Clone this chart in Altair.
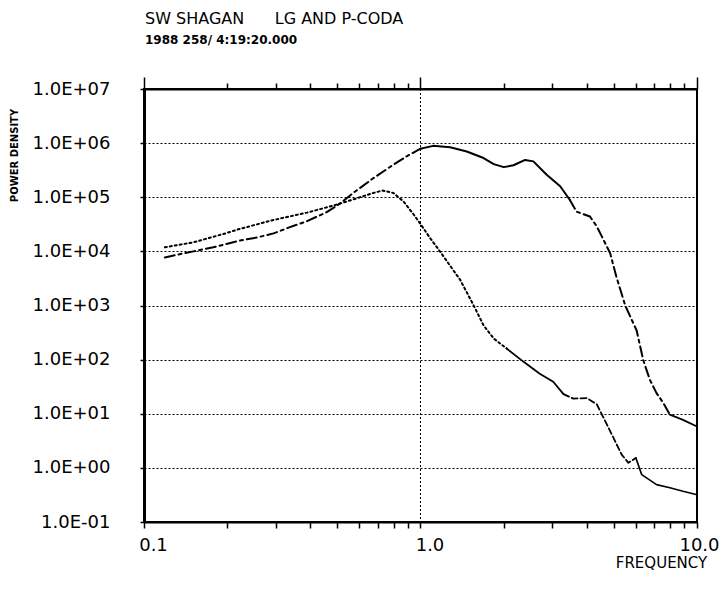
import altair as alt
import pandas as pd

# ---- data ----
dotted_freq = [0.119, 0.151, 0.194, 0.222, 0.294, 0.388, 0.484, 0.571, 0.675, 0.73, 0.798, 0.867,
               0.942, 1.0, 1.08, 1.16, 1.39, 1.55, 1.69, 1.84, 2.05, 2.36, 2.70, 3.02, 3.29, 3.57,
               3.99, 4.34, 4.71, 5.34, 5.65, 6.01, 6.31, 7.14, 7.98, 8.9, 10.0]
dotted_power = [1.19e4, 1.47e4, 2.1e4, 2.6e4, 3.8e4, 5.2e4, 7.0e4, 9.1e4, 1.2e5, 1.33e5, 1.2e5, 8.4e4,
                4.9e4, 3.2e4, 1.8e4, 1.1e4, 3.0e3, 1.05e3, 430, 245, 160, 91, 55, 39, 23, 19,
                19.5, 15, 6.5, 1.76, 1.24, 1.53, 0.75, 0.49, 0.43, 0.37, 0.32]

dashed_freq = [0.119, 0.139, 0.151, 0.178, 0.222, 0.256, 0.294, 0.337, 0.388, 0.458, 0.512, 0.571,
               0.675, 0.798, 0.891, 1.0, 1.11, 1.28, 1.47, 1.69, 1.84, 2.0, 2.17, 2.39, 2.56, 2.86,
               3.2, 3.47, 3.67, 4.10, 4.34, 4.85, 5.11, 5.5, 6.05, 6.39, 6.76, 7.14, 7.56, 7.98,
               8.9, 10.0]
dashed_power = [7.7e3, 9.2e3, 1.0e4, 1.19e4, 1.58e4, 1.8e4, 2.15e4, 2.8e4, 3.6e4, 5.3e4, 7.7e4, 1.2e5,
                2.25e5, 4.0e5, 5.7e5, 7.9e5, 8.9e5, 8.4e5, 7.0e5, 5.3e5, 4.1e5, 3.6e5, 3.9e5, 4.9e5,
                4.6e5, 2.6e5, 1.6e5, 8.9e4, 5.4e4, 4.4e4, 2.9e4, 9.3e3, 3.4e3, 1.0e3, 345, 98, 42,
                24, 15.7, 9.6, 7.7, 5.8]

decades = [1e-1, 1e0, 1e1, 1e2, 1e3, 1e4, 1e5, 1e6, 1e7]
freq_ticks = [0.1, 0.2, 0.3, 0.4, 0.5, 0.6, 0.7, 0.8, 0.9,
              1, 2, 3, 4, 5, 6, 7, 8, 9, 10]
major_freqs = [0.1, 1.0, 10.0]
major_labels = ["0.1", "1.0", "10.0"]
ref_freq = [1.0]

title_text = "SW SHAGAN\u00a0\u00a0\u00a0\u00a0\u00a0\u00a0LG AND P-CODA"
subtitle_text = "1988 258/ 4:19:20.000"
x_title = "FREQUENCY"
y_title = "POWER DENSITY"

FONT = "DejaVu Sans"


def seg(freqs, powers, lo, hi):
    rows = [(f, p) for f, p in zip(freqs, powers) if lo <= f <= hi]
    return pd.DataFrame(rows, columns=["freq", "power"])


x_scale = alt.Scale(type="log", domain=[0.1, 10], nice=False)
y_scale = alt.Scale(type="log", domain=[0.1, 1e7], nice=False)

major_test = " || ".join(f"abs(datum.value - {v}) < 1e-9" for v in major_freqs)
last_test = f"abs(datum.value - {major_freqs[-1]}) < 1e-9"
x_label_expr = "".join(
    f"abs(datum.value - {v}) < 1e-9 ? '{l}' : " for v, l in zip(major_freqs, major_labels)
) + "''"
y_label_expr = ("'1.0E' + (round(log(datum.value)/LN10) < 0 ? '-' : '+') + "
                "(abs(round(log(datum.value)/LN10)) < 10 ? '0' : '') + "
                "abs(round(log(datum.value)/LN10))")

x_axis_bottom = alt.Axis(
    orient="bottom", values=freq_ticks, labelExpr=x_label_expr, labelOverlap=False,
    labelFlush=False, labelFont=FONT, labelFontSize=18, labelColor="black",
    labelOffset=alt.condition(last_test, alt.value(2), alt.value(9)),
    labelPadding=8, grid=False, ticks=True, tickSize=6,
    tickWidth=1.5, tickColor="black", domain=True, domainWidth=2, domainColor="black",
    title=x_title, titleFont=FONT, titleFontSize=15, titleFontWeight="normal",
    titleColor="black", titleAnchor="start", titleAlign="center", titleBaseline="middle",
    titleX=517, titleY=40,
)
y_axis_left = alt.Axis(
    orient="left", values=decades, labelExpr=y_label_expr, labelOverlap=False, labelFlush=False,
    labelFont=FONT, labelFontSize=18, labelColor="black", labelPadding=30,
    grid=True, gridDash=[2, 2], gridColor="black", gridWidth=1, gridOpacity=1,
    tickSize=4, tickWidth=1.5, tickColor="black",
    domain=True, domainWidth=3, domainColor="black",
    title=y_title, titleFont=FONT, titleFontSize=10, titleFontWeight="bold", titleColor="black",
    titleAngle=270, titleAlign="center", titleBaseline="middle", titleX=-130, titleY=66,
)
x_axis_top = alt.Axis(
    orient="top", values=freq_ticks, labels=False, grid=False,
    tickSize=alt.condition(major_test, alt.value(12), alt.value(6)),
    tickWidth=1.5, tickColor="black", domain=True, domainWidth=2, domainColor="black",
    title=None,
)

dotted_styles = [
    (0.1, 2.05, [2, 3], 2.0),
    (2.05, 3.29, [], 1.8),
    (3.29, 6.01, [6, 3], 1.8),
    (6.01, 10.0, [], 1.6),
]
dashed_styles = [
    (0.1, 1.0, [10, 4, 3, 4], 2.0),
    (1.0, 3.47, [], 2.0),
    (3.47, 7.98, [10, 4, 3, 4], 2.0),
    (7.98, 10.0, [], 1.8),
]

frame_df = seg(dashed_freq, dashed_power, 0.1, 10.0)
axes_main = alt.Chart(frame_df).mark_line(opacity=0).encode(
    x=alt.X("freq:Q", scale=x_scale, axis=x_axis_bottom),
    y=alt.Y("power:Q", scale=y_scale, axis=y_axis_left),
)
axes_top = alt.Chart(frame_df).mark_line(opacity=0).encode(
    x=alt.X("freq:Q", scale=x_scale, axis=x_axis_top),
    y=alt.Y("power:Q", scale=y_scale, axis=None),
)

layers = [axes_main, axes_top]

# dotted reference line at 1.0
layers.append(
    alt.Chart(pd.DataFrame({"freq": ref_freq})).mark_rule(
        color="black", strokeDash=[2, 2], strokeWidth=1
    ).encode(x=alt.X("freq:Q", scale=x_scale, axis=None))
)

for freqs, powers, styles in [(dotted_freq, dotted_power, dotted_styles),
                              (dashed_freq, dashed_power, dashed_styles)]:
    for lo, hi, dash, w in styles:
        df = seg(freqs, powers, lo, hi)
        mk = dict(color="black", strokeWidth=w, strokeCap="round", strokeJoin="round")
        if dash:
            mk["strokeDash"] = dash
        layers.append(
            alt.Chart(df).mark_line(**mk).encode(
                x=alt.X("freq:Q", scale=x_scale, axis=None),
                y=alt.Y("power:Q", scale=y_scale, axis=None),
                order="freq:Q",
            )
        )

chart = alt.layer(*layers).resolve_axis(x="independent", y="independent").properties(
    width=553,
    height=433,
    autosize=alt.AutoSizeParams(type="none"),
    padding={"left": 136, "top": 81, "right": 22, "bottom": 52},
    title=alt.TitleParams(
        text=title_text, subtitle=subtitle_text, anchor="start", frame="group",
        font=FONT, fontSize=16, fontWeight="normal", color="black",
        subtitleFont=FONT, subtitleFontSize=12, subtitleFontWeight="bold",
        subtitleColor="black", subtitlePadding=8, offset=30, dx=1,
    ),
).configure_view(stroke="black", strokeWidth=2)

chart.save("out.html", embed_options={"renderer": "svg", "actions": False})
